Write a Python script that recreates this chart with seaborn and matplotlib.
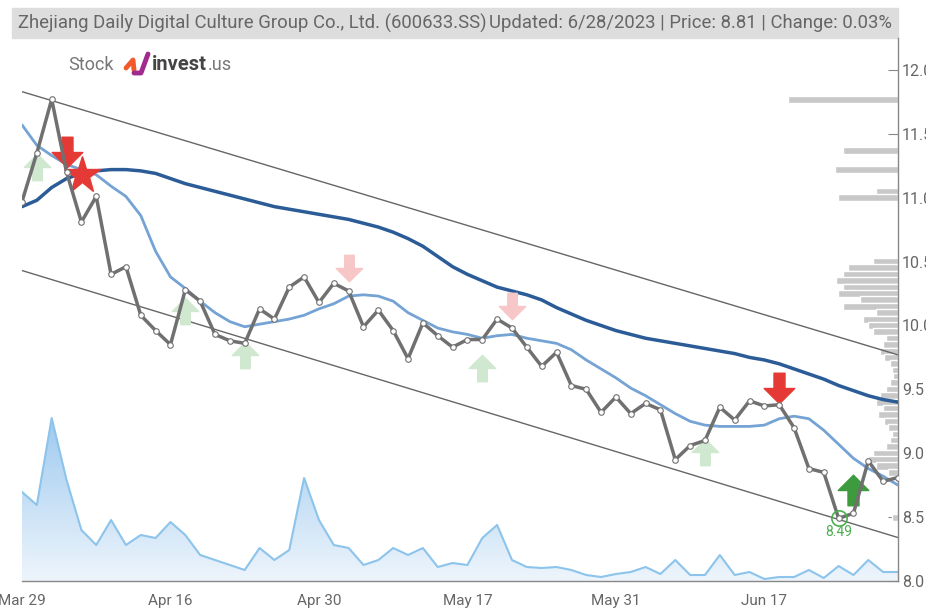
import numpy as np
import pandas as pd
import seaborn as sns
import matplotlib.pyplot as plt
from matplotlib.path import Path
from matplotlib.colors import LinearSegmentedColormap

# ---- data ----
tick_pos = [0, 10, 20, 30, 40, 50]
tick_labels = ["Mar 29", "Apr 16", "Apr 30", "May 17", "May 31", "Jun 17"]

price = [10.97, 11.35, 11.77, 11.20, 10.81, 11.01, 10.40, 10.46, 10.08, 9.96,
         9.85, 10.28, 10.19, 9.93, 9.88, 9.86, 10.13, 10.05, 10.30, 10.38,
         10.18, 10.33, 10.27, 9.99, 10.12, 9.96, 9.74, 10.02, 9.92, 9.83,
         9.89, 9.89, 10.05, 9.98, 9.83, 9.68, 9.79, 9.53, 9.50, 9.32,
         9.44, 9.31, 9.39, 9.34, 8.95, 9.06, 9.10, 9.36, 9.26, 9.41,
         9.37, 9.38, 9.20, 8.88, 8.85, 8.49, 8.53, 8.94, 8.78, 8.81]

ma_short = [11.57, 11.41, 11.33, 11.26, 11.22, 11.18, 11.09, 11.01, 10.86, 10.58,
            10.38, 10.29, 10.19, 10.10, 10.03, 9.99, 10.01, 10.03, 10.05, 10.08,
            10.13, 10.17, 10.23, 10.24, 10.23, 10.19, 10.10, 10.04, 9.98, 9.95,
            9.93, 9.90, 9.92, 9.93, 9.90, 9.88, 9.86, 9.81, 9.73, 9.66,
            9.59, 9.51, 9.45, 9.38, 9.31, 9.25, 9.22, 9.21, 9.21, 9.21,
            9.22, 9.27, 9.29, 9.27, 9.18, 9.07, 8.96, 8.88, 8.82, 8.75]

ma_long = [10.93, 10.98, 11.08, 11.15, 11.19, 11.21, 11.22, 11.22, 11.21, 11.19,
           11.15, 11.11, 11.08, 11.05, 11.02, 10.99, 10.96, 10.93, 10.91, 10.89,
           10.87, 10.85, 10.83, 10.80, 10.77, 10.73, 10.68, 10.62, 10.54, 10.46,
           10.40, 10.35, 10.30, 10.27, 10.24, 10.20, 10.14, 10.09, 10.04, 10.00,
           9.96, 9.93, 9.90, 9.88, 9.86, 9.84, 9.82, 9.80, 9.78, 9.75,
           9.73, 9.70, 9.66, 9.62, 9.58, 9.53, 9.49, 9.45, 9.42, 9.40]

volume = [8.9, 7.6, 16.3, 10.1, 5.1, 3.6, 6.1, 3.6, 4.6, 4.3,
          5.9, 4.6, 2.6, 2.1, 1.6, 1.1, 3.3, 2.1, 3.1, 10.3,
          6.1, 3.6, 3.3, 1.6, 2.1, 3.3, 2.6, 3.3, 1.4, 1.8,
          1.6, 4.3, 5.6, 2.1, 1.4, 1.3, 1.4, 1.1, 0.6, 0.4,
          0.7, 0.9, 1.4, 0.7, 2.1, 0.6, 0.6, 2.6, 0.6, 0.9,
          0.2, 0.4, 0.4, 1.1, 0.3, 1.5, 0.6, 2.1, 0.9, 0.9]

# upper / lower trend channel (start value, end value)
channel_upper = [11.83, 9.77]
channel_lower = [10.43, 8.34]

# volume-by-price profile (price level, width in pixels)
profile_levels = [11.77, 11.37, 11.22, 11.05, 11.00, 10.50, 10.45, 10.40, 10.35,
                  10.30, 10.25, 10.20, 10.15, 10.10, 10.05, 10.00, 9.95, 9.90,
                  9.85, 9.80, 9.75, 9.70, 9.65, 9.60, 9.55, 9.50, 9.45, 9.40,
                  9.35, 9.30, 9.25, 9.20, 9.15, 9.10, 9.05, 9.00, 8.95, 8.90,
                  8.85, 8.50]
profile_width = [110, 55, 63, 22, 60, 25, 50, 55, 62, 55, 60, 38, 55, 22, 35, 30, 25,
                 12, 15, 18, 14, 8, 6, 5, 8, 12, 18, 22, 15, 20, 14, 10, 6, 8, 12,
                 25, 30, 22, 10, 6]

# signals: (index, y)
buy_light = [(1, 11.24), (11, 10.11), (15, 9.77), (31, 9.67), (46, 9.01)]
sell_light = [(22, 10.45), (33, 10.15)]
sell_strong = [(3, 11.36), (51, 9.51)]
buy_strong = [(56, 8.71)]
star_sig = [(4.05, 11.18)]
low_idx = 55

title_left = "Zhejiang Daily Digital Culture Group Co., Ltd. (600633.SS)"
title_right = "Updated: 6/28/2023 | Price: 8.81 | Change: 0.03%"

# ---- plot ----
sns.set_style("white")
plt.rcParams["font.family"] = ["Roboto", "DejaVu Sans"]

df = pd.DataFrame({"idx": np.arange(len(price)), "price": price,
                   "ma_short": ma_short, "ma_long": ma_long, "volume": volume})

fig = plt.figure(figsize=(9.26, 6.10), dpi=100)
ax = fig.add_axes([22 / 926, 29 / 610, 876 / 926, 543 / 610])
ax2 = ax.twinx()
ax.set_zorder(ax2.get_zorder() + 1)
ax.patch.set_visible(False)

# volume area with gradient fill
n = len(price)
vmax = max(volume)
ax2.set_ylim(0, vmax * 543 / 163)
ax2.set_xlim(0, n - 1)
poly = ax2.fill_between(df["idx"], 0, df["volume"], color="none")
grad = np.linspace(0, 1, 256).reshape(-1, 1)
cmap = LinearSegmentedColormap.from_list("vol", ["#eef5fc", "#9fcaef"])
im = ax2.imshow(grad, extent=[0, n - 1, 0, vmax], origin="lower", aspect="auto",
                cmap=cmap, zorder=1)
im.set_clip_path(poly.get_paths()[0], transform=ax2.transData)
sns.lineplot(data=df, x="idx", y="volume", ax=ax2, color="#8cc4ec", linewidth=1.5)
ax2.set_axis_off()

# volume profile bars from the right edge
px_per_idx = 876 / (n - 1)
ax.barh(profile_levels, [-w / px_per_idx for w in profile_width], left=n - 1,
        height=0.055, color="#c8c8c8", zorder=1)

# channel lines
ax.plot([0, n - 1], channel_upper, color="#666666", linewidth=1, zorder=2)
ax.plot([0, n - 1], channel_lower, color="#666666", linewidth=1, zorder=2)

# moving averages
sns.lineplot(data=df, x="idx", y="ma_long", ax=ax, color="#2b5c97", linewidth=2.5, zorder=3)
sns.lineplot(data=df, x="idx", y="ma_short", ax=ax, color="#74a3d4", linewidth=2, zorder=3)

up = Path([(-0.18, -0.5), (0.18, -0.5), (0.18, 0.0), (0.5, 0.0), (0, 0.5),
           (-0.5, 0.0), (-0.18, 0.0), (-0.18, -0.5)],
          [Path.MOVETO] + [Path.LINETO] * 6 + [Path.CLOSEPOLY])
down = Path([(x, -y) for x, y in up.vertices], up.codes)


def signals(points, marker, color, size):
    ax.plot([p[0] for p in points], [p[1] for p in points], marker=marker,
            markersize=size, color=color, linestyle="none", zorder=4)


signals(buy_light, up, "#cfe8cf", 19)
signals(sell_light, down, "#f7c6c6", 19)

sns.lineplot(data=df, x="idx", y="price", ax=ax, color="#707070", linewidth=2.5,
             marker="o", markersize=4, markerfacecolor="white",
             markeredgecolor="#707070", markeredgewidth=0.8, zorder=5)

signals(sell_strong, down, "#e53935", 22)
signals(buy_strong, up, "#3d9a3d", 22)
signals(star_sig, "*", "#e53935", 28)

ax.plot(low_idx, price[low_idx], marker="o", markersize=11, markerfacecolor="none",
        markeredgecolor="#4caf50", markeredgewidth=1.2, zorder=6)
ax.text(low_idx, price[low_idx] - 0.11, f"{price[low_idx]:.2f}", color="#4caf50",
        fontsize=10, ha="center", va="center", zorder=6)

# axes styling
ax.set_xlim(0, n - 1)
ax.set_ylim(8.0, 12.25)
ax.set_xlabel("")
ax.set_ylabel("")
ax.set_xticks(tick_pos)
ax.set_xticklabels(tick_labels)
yt = np.arange(8.0, 12.01, 0.5)
ax.set_yticks(yt)
ax.set_yticklabels([f"{v:.1f}" for v in yt])
ax.yaxis.tick_right()
ax.tick_params(axis="y", direction="in", length=7, color="#888888", labelcolor="#666666",
               labelsize=11.5, pad=3)
ax.tick_params(axis="x", direction="out", length=6, color="#888888", labelcolor="#666666",
               labelsize=11)
for side in ["left", "top"]:
    ax.spines[side].set_visible(False)
for side in ["right", "bottom"]:
    ax.spines[side].set_color("#888888")
    ax.spines[side].set_linewidth(1)

# title bar
fig.patches.append(plt.Rectangle((12 / 926, 572 / 610), 886 / 926, 30 / 610,
                                 transform=fig.transFigure, color="#dddddd", zorder=0))
fig.text(18 / 926, 587 / 610, title_left, fontsize=13.3, color="#666666",
         va="center", ha="left")
fig.text(892 / 926, 587 / 610, title_right, fontsize=13.3, color="#666666",
         va="center", ha="right")

# logo
fig.text(68 / 926, 545 / 610, "Stock", fontsize=13, color="#777777", va="center")
fig.lines.append(plt.Line2D([126 / 926, 133 / 926, 134 / 926], [542 / 610, 550 / 610, 540 / 610],
                            transform=fig.transFigure, color="#f25a2c", linewidth=3.5))
fig.lines.append(plt.Line2D([134 / 926, 141 / 926, 148 / 926], [537 / 610, 537 / 610, 556 / 610],
                            transform=fig.transFigure, color="#a12a8f", linewidth=3.5))
inv = fig.text(152 / 926, 545 / 610, "invest", fontsize=14.5, color="#444444", va="center",
               fontweight="bold")
renderer = fig.canvas.get_renderer()
inv_end = inv.get_window_extent(renderer).x1
fig.text(inv_end / 926 + 1 / 926, 545 / 610, ".us", fontsize=13, color="#777777", va="center")

fig.savefig("out.png", dpi=100)
